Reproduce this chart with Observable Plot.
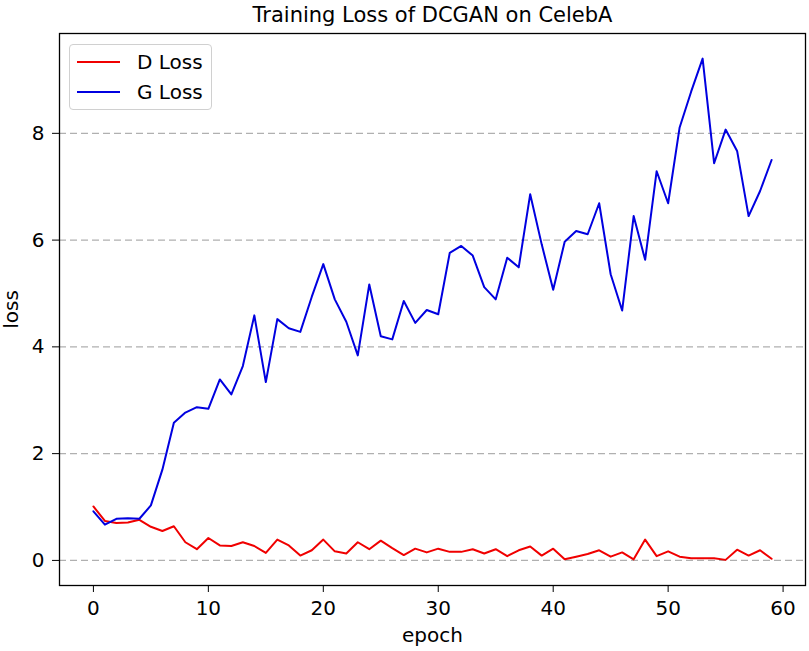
<!DOCTYPE html>
<html>
<head>
<meta charset="utf-8">
<script src="https://cdn.jsdelivr.net/npm/d3@7"></script>
<script src="https://cdn.jsdelivr.net/npm/@observablehq/plot@0.6"></script>
<style>
  html, body { margin: 0; padding: 0; background: #fff; }
  #wrap { position: relative; width: 809px; height: 651px; font-family: "DejaVu Sans", sans-serif; }
  #legend { position: absolute; left: 69px; top: 44px; width: 143px; height: 66px; box-sizing: border-box;
            border: 1px solid #d0d0d0; border-radius: 4px; background: rgba(255,255,255,0.8); }
  .row { position: absolute; left: 0; height: 24px; display: flex; align-items: center; font-size: 20px; color: #000; }
  .sw { display: inline-block; width: 43px; height: 2px; margin-left: 7px; margin-right: 17px; }
</style>
</head>
<body>
<div id="wrap"></div>
<script>
const title = "Training Loss of DCGAN on CelebA";
const seriesNames = ["D Loss", "G Loss"];
const seriesColors = ["#f00000", "#0000e0"];
const dLoss = [1.01,0.74,0.70,0.71,0.76,0.63,0.55,0.64,0.34,0.21,
               0.42,0.28,0.27,0.34,0.27,0.14,0.39,0.28,0.09,0.19,
               0.39,0.17,0.13,0.34,0.21,0.37,0.23,0.10,0.22,0.15,
               0.22,0.16,0.16,0.21,0.13,0.21,0.08,0.19,0.26,0.09,
               0.22,0.02,0.07,0.12,0.19,0.07,0.15,0.02,0.39,0.08,
               0.17,0.07,0.04,0.04,0.04,0.01,0.20,0.09,0.19,0.03];
const gLoss = [0.92,0.67,0.78,0.79,0.78,1.03,1.70,2.58,2.77,2.87,
               2.84,3.39,3.11,3.64,4.59,3.34,4.52,4.35,4.28,4.94,
               5.55,4.89,4.47,3.84,5.17,4.20,4.14,4.86,4.45,4.69,
               4.61,5.76,5.89,5.71,5.12,4.89,5.67,5.49,6.86,5.92,
               5.07,5.97,6.17,6.11,6.69,5.36,4.68,6.45,5.63,7.29,
               6.69,8.11,8.78,9.40,7.44,8.07,7.67,6.45,6.92,7.50];
const epochs = d3.range(dLoss.length);
const xTicks = [0, 10, 20, 30, 40, 50, 60];
const yTicks = [0, 2, 4, 6, 8];

const rows = [];
epochs.forEach((e, i) => {
  rows.push({epoch: e, loss: dLoss[i], series: seriesNames[0]});
});
epochs.forEach((e, i) => {
  rows.push({epoch: e, loss: gLoss[i], series: seriesNames[1]});
});

const chart = Plot.plot({
  width: 809,
  height: 651,
  marginLeft: 59,
  marginRight: 4,
  marginTop: 33,
  marginBottom: 66,
  style: { fontFamily: "DejaVu Sans", fontSize: "20px", color: "#000", background: "#fff" },
  x: { domain: [-2.95, 61.95] },
  y: { domain: [-0.47, 9.87] },
  color: { domain: seriesNames, range: seriesColors },
  marks: [
    Plot.gridY(yTicks, { stroke: "#b0b0b0", strokeOpacity: 1, strokeDasharray: "7,4", strokeWidth: 1.2 }),
    Plot.line(rows, { x: "epoch", y: "loss", z: "series", stroke: "series", strokeWidth: 2 }),
    Plot.frame({ stroke: "#000", strokeWidth: 1.3 }),
    Plot.axisX(xTicks, { tickSize: 7, tickPadding: 8, fontSize: 20, tickFormat: d3.format("d"), label: "epoch", labelAnchor: "center", labelOffset: 56, labelArrow: "none" }),
    Plot.axisY(yTicks, { tickSize: 7, tickPadding: 8, fontSize: 20, tickFormat: d3.format("d"), label: "loss", labelAnchor: "center", labelOffset: 56, labelArrow: "none" }),
    Plot.text([title], { frameAnchor: "top", lineAnchor: "bottom", dy: -12, fontSize: 21 })
  ]
});

const wrap = document.getElementById("wrap");
wrap.appendChild(chart);

const legend = document.createElement("div");
legend.id = "legend";
seriesNames.forEach((name, i) => {
  const row = document.createElement("div");
  row.className = "row";
  row.style.top = (5 + i * 30) + "px";
  const sw = document.createElement("span");
  sw.className = "sw";
  sw.style.background = seriesColors[i];
  const label = document.createElement("span");
  label.textContent = name;
  row.appendChild(sw);
  row.appendChild(label);
  legend.appendChild(row);
});
wrap.appendChild(legend);
</script>
</body>
</html>
